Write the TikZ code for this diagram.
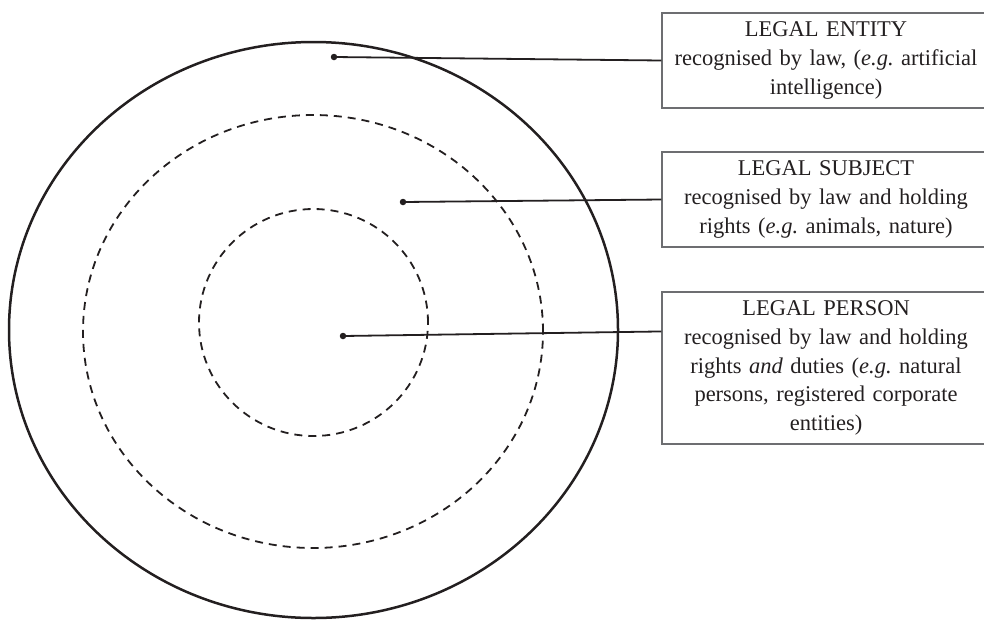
\documentclass[tikz,border=0pt]{standalone}
\usepackage{fontspec}
\setmainfont{Liberation Serif}
\frenchspacing
\definecolor{ink}{HTML}{231F20}
\definecolor{frame}{HTML}{6D6E71}
\begin{document}
\begin{tikzpicture}[x=1pt,y=-1pt,
  ring/.style={draw=ink,line width=2.5pt},
  dashring/.style={draw=ink,line width=1.8pt,dash pattern=on 8pt off 6pt},
  infobox/.style={draw=frame,line width=1.1pt,rectangle,minimum width=328pt,
    text width=310pt,align=center,inner sep=0pt,text=ink,
    font=\fontsize{22.5pt}{28.8pt}\selectfont},
  pin/.style={circle,fill=ink,inner sep=0pt,minimum size=6.5pt},
  leader/.style={draw=ink,line width=1.8pt}]
\useasboundingbox (0,0) rectangle (984,619);
\clip (0,0) rectangle (984,619);

% nested regions
\draw[ring] (313.5,330) ellipse [x radius=304.5pt, y radius=288pt];
\draw[dashring] (313,331.5) ellipse [x radius=230pt, y radius=216.5pt];
\draw[dashring] (313.5,322.5) ellipse [x radius=114.5pt, y radius=113.5pt];

% description boxes (right edge runs off the page)
\node[infobox,minimum height=95pt] (entity) at (826,60.5)
  {LEGAL ENTITY\\recognised by law, (\textit{e.g.} artificial\\intelligence)};
\node[infobox,minimum height=95pt] (subject) at (826,199.5)
  {LEGAL SUBJECT\\recognised by law and holding\\rights (\textit{e.g.} animals, nature)};
\node[infobox,minimum height=152pt] (person) at (826,368)
  {LEGAL PERSON\\recognised by law and holding\\rights \textit{and} duties (\textit{e.g.} natural\\persons, registered corporate\\entities)};

% pins inside each region
\node[pin] (p1) at (334,57) {};
\node[pin] (p2) at (403,202) {};
\node[pin] (p3) at (343,336) {};
\path (person.north west) ++(0,40) coordinate (e3);

% leaders
\draw[leader] (p1.center) -- (entity.west);
\draw[leader] (p2.center) -- (subject.west);
\draw[leader] (p3.center) -- (e3);
\end{tikzpicture}
\end{document}
